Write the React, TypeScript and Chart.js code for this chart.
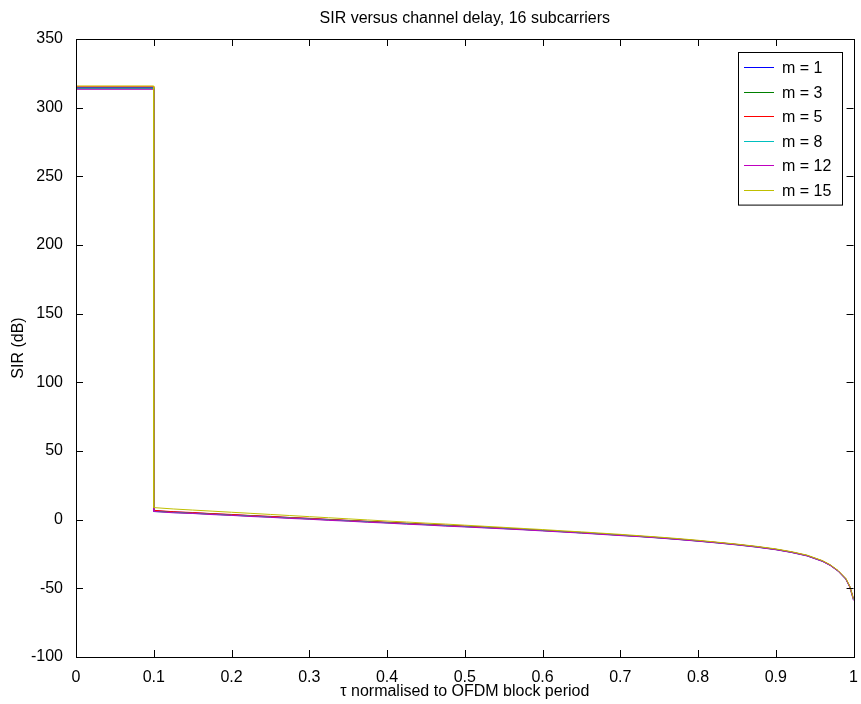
import React, { useEffect, useRef } from 'react';
import { Chart, registerables } from 'chart.js';

Chart.register(...registerables);

const TITLE = 'SIR versus channel delay, 16 subcarriers';
const X_TITLE = 'τ normalised to OFDM block period';
const Y_TITLE = 'SIR (dB)';

const TAU = [
  0, 0.0999, 0.1, 0.125, 0.15, 0.175, 0.2, 0.225, 0.25, 0.275, 0.3, 0.325, 0.35, 0.375,
  0.4, 0.425, 0.45, 0.475, 0.5, 0.525, 0.55, 0.575, 0.6, 0.625, 0.65, 0.675, 0.7, 0.725,
  0.75, 0.775, 0.8, 0.825, 0.85, 0.875, 0.9, 0.92, 0.94, 0.96, 0.97, 0.98, 0.99, 0.995, 1.0,
];

const SERIES_LABELS = ['m = 1', 'm = 3', 'm = 5', 'm = 8', 'm = 12', 'm = 15'];
const SERIES_COLORS = ['#0000ff', '#008000', '#ff0000', '#00bfbf', '#bf00bf', '#bfbf00'];

const SIR_M1 = [
  314.6, 314.6, 6.5, 5.6, 5.0, 4.3, 3.6, 2.9, 2.2, 1.5, 0.8, 0.1, -0.6, -1.3,
  -2.0, -2.7, -3.4, -4.1, -4.8, -5.5, -6.2, -7.0, -7.8, -8.6, -9.4, -10.3, -11.2, -12.1,
  -13.1, -14.2, -15.4, -16.7, -18.1, -19.7, -21.6, -23.6, -26.1, -30.1, -33.1, -37.2, -43.0, -48.5, -57.5,
];
const SIR_M3 = [
  313.8, 313.8, 6.2, 5.4, 4.7, 4.1, 3.3, 2.7, 2.0, 1.3, 0.6, -0.1, -0.8, -1.5,
  -2.2, -2.8, -3.6, -4.3, -5.0, -5.6, -6.4, -7.1, -7.9, -8.7, -9.6, -10.4, -11.3, -12.2,
  -13.2, -14.3, -15.5, -16.8, -18.2, -19.8, -21.7, -23.7, -26.2, -30.2, -33.2, -37.3, -43.2, -48.7, -58.0,
];
const SIR_M5 = [
  315.2, 315.2, 6.8, 5.8, 5.2, 4.4, 3.8, 3.0, 2.4, 1.6, 1.0, 0.2, -0.5, -1.2,
  -1.9, -2.6, -3.3, -4.0, -4.7, -5.4, -6.1, -6.9, -7.7, -8.5, -9.3, -10.2, -11.1, -12.0,
  -13.0, -14.1, -15.3, -16.6, -18.0, -19.6, -21.5, -23.5, -26.0, -30.0, -33.0, -37.1, -42.9, -48.4, -57.2,
];
const SIR_M8 = [
  314.2, 314.2, 5.9, 5.2, 4.6, 3.9, 3.2, 2.6, 1.8, 1.2, 0.5, -0.2, -0.9, -1.6,
  -2.3, -3.0, -3.7, -4.4, -5.1, -5.8, -6.5, -7.2, -8.0, -8.8, -9.6, -10.5, -11.4, -12.3,
  -13.3, -14.4, -15.6, -16.9, -18.3, -19.9, -21.8, -23.8, -26.3, -30.3, -33.3, -37.4, -43.3, -48.8, -58.5,
];
const SIR_M12 = [
  313.4, 313.4, 6.0, 5.0, 4.5, 3.7, 3.1, 2.3, 1.7, 0.9, 0.3, -0.5, -1.1, -1.9,
  -2.5, -3.3, -3.9, -4.7, -5.3, -6.0, -6.7, -7.4, -8.2, -9.0, -9.8, -10.7, -11.6, -12.4,
  -13.4, -14.5, -15.7, -17.0, -18.4, -20.0, -21.9, -23.9, -26.4, -30.4, -33.4, -37.5, -43.4, -49.0, -59.0,
];
const SIR_M15 = [
  315.8, 315.8, 8.8, 7.8, 7.0, 6.2, 5.4, 4.6, 3.8, 3.0, 2.2, 1.4, 0.6, -0.2,
  -1.0, -1.7, -2.5, -3.2, -4.0, -4.8, -5.6, -6.4, -7.2, -8.1, -8.9, -9.8, -10.7, -11.7,
  -12.7, -13.8, -15.0, -16.4, -17.8, -19.4, -21.3, -23.3, -25.8, -29.8, -32.8, -36.9, -42.7, -48.2, -58.0,
];

const SERIES = [SIR_M1, SIR_M3, SIR_M5, SIR_M8, SIR_M12, SIR_M15];

const FONT = '"Liberation Sans", Arial, Helvetica, sans-serif';

export default function App() {
  const ref = useRef<HTMLCanvasElement>(null);

  useEffect(() => {
    document.body.style.margin = '0';
    const canvas = ref.current!;

    const frame = {
      id: 'matlabFrame',
      afterDatasetsDraw(chart: any) {
        const { ctx, chartArea } = chart;
        const { left, right, top, bottom } = chartArea;
        const xs = chart.scales.x;
        const ys = chart.scales.y;
        ctx.save();
        ctx.strokeStyle = '#000';
        ctx.lineWidth = 1;
        const tl = 7;
        ctx.beginPath();
        xs.ticks.forEach((t: any) => {
          const px = Math.round(xs.getPixelForValue(t.value)) + 0.5;
          ctx.moveTo(px, bottom);
          ctx.lineTo(px, bottom - tl);
          ctx.moveTo(px, top);
          ctx.lineTo(px, top + tl);
        });
        ys.ticks.forEach((t: any) => {
          const py = Math.round(ys.getPixelForValue(t.value)) + 0.5;
          ctx.moveTo(left, py);
          ctx.lineTo(left + tl, py);
          ctx.moveTo(right, py);
          ctx.lineTo(right - tl, py);
        });
        ctx.stroke();
        ctx.strokeRect(Math.round(left) + 0.5, Math.round(top) + 0.5, Math.round(right - left), Math.round(bottom - top));

        ctx.fillStyle = '#000';
        ctx.font = `16px ${FONT}`;
        ctx.textAlign = 'center';
        ctx.textBaseline = 'middle';
        ctx.fillText(TITLE, (left + right) / 2, 19);
        ctx.fillText(X_TITLE, (left + right) / 2, 692);
        ctx.save();
        ctx.translate(19, (top + bottom) / 2);
        ctx.rotate(-Math.PI / 2);
        ctx.fillText(Y_TITLE, 0, 0);
        ctx.restore();

        const lx = 738;
        const ly = 52;
        const lw = 104;
        const rowH = 24.6;
        const lh = rowH * SERIES_LABELS.length + 5;
        ctx.fillStyle = '#fff';
        ctx.fillRect(lx, ly, lw, lh);
        ctx.strokeStyle = '#000';
        ctx.strokeRect(lx + 0.5, ly + 0.5, lw, lh);
        SERIES_LABELS.forEach((label, i) => {
          const cy = Math.round(ly + 15 + i * rowH) + 0.5;
          ctx.strokeStyle = SERIES_COLORS[i];
          ctx.beginPath();
          ctx.moveTo(lx + 6, cy);
          ctx.lineTo(lx + 36, cy);
          ctx.stroke();
          ctx.fillStyle = '#000';
          ctx.textAlign = 'left';
          ctx.textBaseline = 'middle';
          ctx.fillText(label, lx + 44, cy + 1);
        });
        ctx.restore();
      },
    };

    const chart = new Chart(canvas, {
      type: 'line',
      data: {
        datasets: SERIES.map((ys, i) => ({
          label: SERIES_LABELS[i],
          data: TAU.map((t, j) => ({ x: t, y: ys[j] })),
          borderColor: SERIES_COLORS[i],
          backgroundColor: SERIES_COLORS[i],
          borderWidth: 1,
          pointRadius: 0,
          fill: false,
          order: SERIES.length - i,
        })),
      },
      options: {
        responsive: false,
        animation: false,
        events: [],
        layout: { padding: { top: 39, right: 4, left: 0, bottom: 0 } },
        plugins: {
          legend: { display: false },
          title: { display: false },
          tooltip: { enabled: false },
        },
        scales: {
          x: {
            type: 'linear',
            min: 0,
            max: 1,
            ticks: {
              stepSize: 0.1,
              padding: 3,
              color: '#000',
              font: { family: FONT, size: 16 },
              maxRotation: 0,
              autoSkip: false,
              callback: (v: any) => String(Math.round(Number(v) * 10) / 10),
            },
            grid: { display: false },
            border: { display: false },
            afterFit(s: any) {
              s.height = 47;
            },
          },
          y: {
            type: 'linear',
            min: -100,
            max: 350,
            ticks: {
              stepSize: 50,
              padding: 5,
              color: '#000',
              font: { family: FONT, size: 16 },
              autoSkip: false,
            },
            grid: { display: false },
            border: { display: false },
            afterFit(s: any) {
              s.width = 76;
            },
          },
        },
      },
      plugins: [frame],
    });

    return () => chart.destroy();
  }, []);

  return <canvas ref={ref} width={861} height={704} style={{ display: 'block' }} />;
}
